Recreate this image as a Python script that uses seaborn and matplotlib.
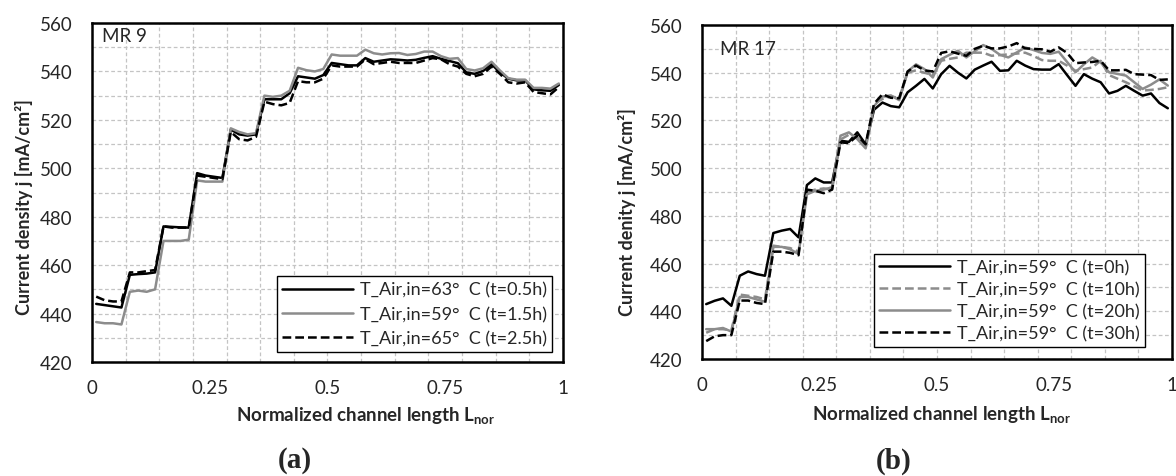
import numpy as np
import pandas as pd
import matplotlib
matplotlib.use("Agg")
import matplotlib.pyplot as plt
from matplotlib.ticker import MultipleLocator, FixedLocator
import seaborn as sns

# 14 segments along the channel, 4 measuring points per segment
x_nor = (np.arange(56) + 0.5) / 56

# (a) MR 9
mr9_t05 = [444, 443.5, 443, 442.5, 456, 456.3, 456.5, 457,
           476, 475.8, 475.6, 475.5, 498, 497, 496.5, 496,
           516, 514, 513.5, 514, 528.5, 528.5, 528.5, 531,
           538, 537.5, 537, 538.5, 543.5, 543, 542.5, 542.5,
           545.5, 544, 544.5, 545, 544.8, 544.5, 544.8, 545.6,
           546.3, 545.2, 544.3, 543.4, 539.6, 539, 540.2, 543,
           539.6, 537, 536.3, 536.3, 532.6, 532.2, 532, 534.4]
mr9_t15 = [436.5, 436, 436, 435.5, 449, 449.5, 449, 450,
           470, 470, 470, 470.5, 495, 494.5, 494.5, 494.5,
           516.5, 515, 514, 514.5, 530, 529.5, 530, 532,
           541.5, 540.5, 540, 541, 547, 546.5, 546.5, 546.5,
           549, 547.5, 547, 547.5, 547.6, 546.8, 547.2, 548.2,
           548.2, 546.3, 545.2, 545.5, 541, 540.4, 541.3, 544,
           540.4, 537.2, 536.6, 536.6, 533.2, 533.2, 532.9, 535]
mr9_t25 = [447, 445.5, 445, 445, 457, 457, 457.5, 458,
           476, 475.5, 475.5, 475.5, 497, 496.5, 496, 495.5,
           515, 512, 511.5, 513, 527.5, 526.5, 526, 527,
           536, 535.5, 535.5, 537, 542.5, 542, 542, 542,
           545, 543, 543.5, 544, 543.5, 543.5, 543.5, 544.5,
           545.5, 545, 543, 542, 539, 538, 539, 542,
           539, 535.5, 535, 535.5, 531.5, 531, 530.5, 533.5]

# (b) MR 17
mr17_t0 = [443, 444.4, 445.4, 442.3, 454.9, 456.7, 455.6, 454.9,
           472.8, 473.8, 474.5, 471, 492.9, 495.7, 494, 494,
           511.5, 511, 515, 510, 524.5, 527.5, 526, 525.5,
           531.8, 534.5, 537.4, 533.4, 539.4, 542.9, 540, 537.6,
           541.3, 543, 544.6, 540.8, 541, 545, 543, 541.5,
           541.3, 541.3, 543.6, 539, 534.5, 539.4, 537.5, 536,
           531.3, 532.4, 534.5, 532.4, 530.4, 531.3, 527.3, 525.1]
mr17_t10 = [431, 432.5, 432.5, 432, 447, 446.5, 446, 445,
            467.5, 467, 466.5, 465, 490, 491, 491.5, 491,
            512, 514, 513, 509, 527, 529, 530, 529.5,
            540, 541, 540, 539, 545, 545.8, 546.4, 548.4,
            548.4, 548.4, 547.1, 547.4, 547.7, 548, 548.4, 547,
            545.3, 545, 545, 543, 540.8, 541.5, 542.2, 545,
            539, 537.5, 536, 534.3, 532.5, 532.8, 533.2, 533.9]
mr17_t20 = [432.5, 432.5, 433, 431.5, 446, 446, 445, 444,
            467, 467, 466, 464, 489, 490.5, 491, 492,
            513.6, 515, 512.2, 508.3, 526, 530, 530.5, 528.5,
            540.5, 543.5, 541.5, 538, 545.7, 547.5, 549.2, 546.4,
            549, 551.6, 550, 547.5, 546.4, 548.5, 550.6, 549.5,
            548.3, 547.9, 548.8, 544.5, 540.2, 543.5, 546.4, 544.3,
            540.2, 539.5, 538.8, 536, 533.2, 535, 537.2, 534.6]
mr17_t30 = [427.5, 429.5, 430, 430, 444.5, 444.5, 443.5, 443,
            465, 465, 464.5, 463.5, 491, 490.5, 489.5, 491,
            510.8, 510.5, 513.6, 510, 527, 531, 529.5, 529.3,
            540.5, 543, 541, 540.5, 548.3, 549, 548, 547.1,
            550, 551.3, 550.2, 550.2, 551, 552.4, 550.2, 550,
            549.8, 548.8, 550.6, 548.3, 544, 544.3, 544.5, 545,
            541, 541, 541.2, 539.4, 539.2, 539, 537, 537.2]

labels_a = ["T_Air,in=63°  C (t=0.5h)", "T_Air,in=59°  C (t=1.5h)", "T_Air,in=65°  C (t=2.5h)"]
labels_b = ["T_Air,in=59°  C (t=0h)", "T_Air,in=59°  C (t=10h)",
            "T_Air,in=59°  C (t=20h)", "T_Air,in=59°  C (t=30h)"]

x_ticks = [0, 0.25, 0.5, 0.75, 1]
x_ticklabels = ["0", "0.25", "0.5", "0.75", "1"]

sns.set_style("white")
plt.rcParams['font.family'] = ['Lato', 'DejaVu Sans']
plt.rcParams['mathtext.fontset'] = 'custom'
plt.rcParams['mathtext.rm'] = 'Lato'
plt.rcParams['mathtext.bf'] = 'Lato:bold'

BLACK = "#000000"
GREY = "#8c8c8c"
DASH = (0, (3.5, 1.6))

fig = plt.figure(figsize=(11.76, 4.77), dpi=100)
ax_a = fig.add_axes([92 / 1176, 114 / 477, 471 / 1176, 339 / 477])
ax_b = fig.add_axes([702 / 1176, 117 / 477, 470 / 1176, 334 / 477])

sns.lineplot(x=x_nor, y=mr9_t05, ax=ax_a, color=BLACK, lw=1.8, label=labels_a[0])
sns.lineplot(x=x_nor, y=mr9_t15, ax=ax_a, color=GREY, lw=1.8, label=labels_a[1])
sns.lineplot(x=x_nor, y=mr9_t25, ax=ax_a, color=BLACK, lw=1.8, linestyle=DASH, label=labels_a[2])

sns.lineplot(x=x_nor, y=mr17_t0, ax=ax_b, color=BLACK, lw=1.8, label=labels_b[0])
sns.lineplot(x=x_nor, y=mr17_t10, ax=ax_b, color=GREY, lw=1.8, linestyle=DASH, label=labels_b[1])
sns.lineplot(x=x_nor, y=mr17_t20, ax=ax_b, color=GREY, lw=1.8, label=labels_b[2])
sns.lineplot(x=x_nor, y=mr17_t30, ax=ax_b, color=BLACK, lw=1.8, linestyle=DASH, label=labels_b[3])

ylabels = ["Current density j [mA/cm²]", "Current denity j [mA/cm²]"]
tags = ["MR 9", "MR 17"]
tag_pos = [(0.021, 0.962), (0.038, 0.931)]
leg_anchor = [(0.977, 0.03), (0.943, 0.036)]
leg_space = [0.45, 0.33]
ylab_xy = [(-0.125, 0.46), (-0.141, 0.443)]
xlab_xy = [(0.58, -0.125), (0.509, -0.135)]

for k, ax in enumerate([ax_a, ax_b]):
    ax.set_xlim(0, 1)
    ax.set_ylim(420, 560)
    ax.xaxis.set_major_locator(FixedLocator(x_ticks))
    ax.set_xticklabels(x_ticklabels)
    ax.xaxis.set_minor_locator(MultipleLocator(1 / 14))
    ax.yaxis.set_major_locator(MultipleLocator(20))
    ax.yaxis.set_minor_locator(MultipleLocator(10))
    ax.xaxis.remove_overlapping_locs = False
    ax.yaxis.remove_overlapping_locs = False
    ax.grid(False)
    ax.grid(True, which='minor', color="#c4c4c4", linestyle=(0, (3, 2)), linewidth=0.9)
    ax.tick_params(which='both', length=0)
    ax.tick_params(axis='y', labelsize=13.5, pad=14)
    ax.tick_params(axis='x', labelsize=13.5, pad=12)
    for s in ax.spines.values():
        s.set_color("black")
        s.set_linewidth(1.8)
    ax.set_ylabel(ylabels[k], fontsize=13, fontweight='bold')
    ax.yaxis.set_label_coords(*ylab_xy[k])
    ax.set_xlabel(r"Normalized channel length L$_{\mathbf{nor}}$", fontsize=13.5, fontweight='bold')
    ax.xaxis.set_label_coords(*xlab_xy[k])
    ax.text(tag_pos[k][0], tag_pos[k][1], tags[k], transform=ax.transAxes,
            fontsize=13.5, ha='left', va='center')
    leg = ax.legend(loc='lower right', bbox_to_anchor=leg_anchor[k], borderaxespad=0,
                    fontsize=13, frameon=True, fancybox=False, handlelength=3.9,
                    handletextpad=0.4, labelspacing=leg_space[k], borderpad=0.3)
    leg.get_frame().set_edgecolor("black")
    leg.get_frame().set_linewidth(1.0)
    leg.get_frame().set_alpha(1)

fig.text(295 / 1176, 1 - 461 / 477, "(a)", fontsize=21, fontweight='bold',
         family='Liberation Serif', ha='center', va='center')
fig.text(894 / 1176, 1 - 461 / 477, "(b)", fontsize=21, fontweight='bold',
         family='Liberation Serif', ha='center', va='center')

fig.savefig("out.png", dpi=100)
